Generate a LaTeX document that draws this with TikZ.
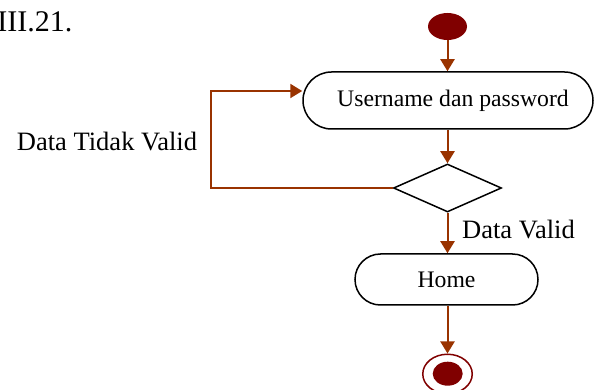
\documentclass[tikz,border=0pt]{standalone}
\usepackage{fontspec}
\setmainfont{Liberation Serif}
\usetikzlibrary{shapes.geometric,shapes.misc,arrows.meta}
\definecolor{flow}{HTML}{993300}
\definecolor{dred}{HTML}{800000}
\begin{document}
\begin{tikzpicture}[x=1pt,y=-1pt,
  flowarrow/.style={draw=flow,line width=2pt,-{Triangle[length=12pt,width=14pt]}},
  actbox/.style={rounded rectangle,draw=black,line width=1.5pt,fill=white,inner sep=0pt,font=\fontsize{23.7}{28}\selectfont},
  decision/.style={diamond,draw=black,line width=1.5pt,fill=white,inner sep=0pt},
  startdot/.style={ellipse,fill=dred,draw=none,inner sep=0pt},
  endring/.style={ellipse,draw=dred,line width=1.5pt,fill=white,inner sep=0pt},
  lbl/.style={inner sep=0pt,font=\fontsize{26.5}{30}\selectfont}
]
\useasboundingbox (0,0) rectangle (595,390);
\node[lbl,anchor=base east,font=\fontsize{30}{34}\selectfont] (title) at (72.5,32) {III.21.};
\node[startdot,minimum width=39pt,minimum height=27pt] (start) at (447.5,26.5) {};
\node[actbox,minimum width=290pt,minimum height=57pt] (login) at (448,100.5) {\hspace*{10pt}Username dan password};
\node[decision,minimum width=108pt,minimum height=48pt] (check) at (447.5,188) {};
\node[actbox,minimum width=183pt,minimum height=51pt] (home) at (446.5,279.5) {Home};
\node[endring,minimum width=49.5pt,minimum height=39.5pt] (end) at (447.5,374) {};
\node[startdot,minimum width=30pt,minimum height=24pt] (endin) at (447.7,373.7) {};
\coordinate (loopc) at (211,91);
\draw[flowarrow] (start.south) -- (start.south |- login.north);
\draw[flowarrow] (login.south -| check.north) -- (check.north);
\draw[flowarrow] (check.south) -- (check.south |- home.north);
\draw[flowarrow] (home.south -| end.north) -- (end.north);
\draw[flowarrow] (check.west) -| (loopc) -- (loopc -| login.west);
\node[lbl,anchor=base] (ntv) at (107,151) {Data Tidak Valid};
\node[lbl,anchor=base west] (nv) at (462,239) {Data Valid};
\end{tikzpicture}
\end{document}
